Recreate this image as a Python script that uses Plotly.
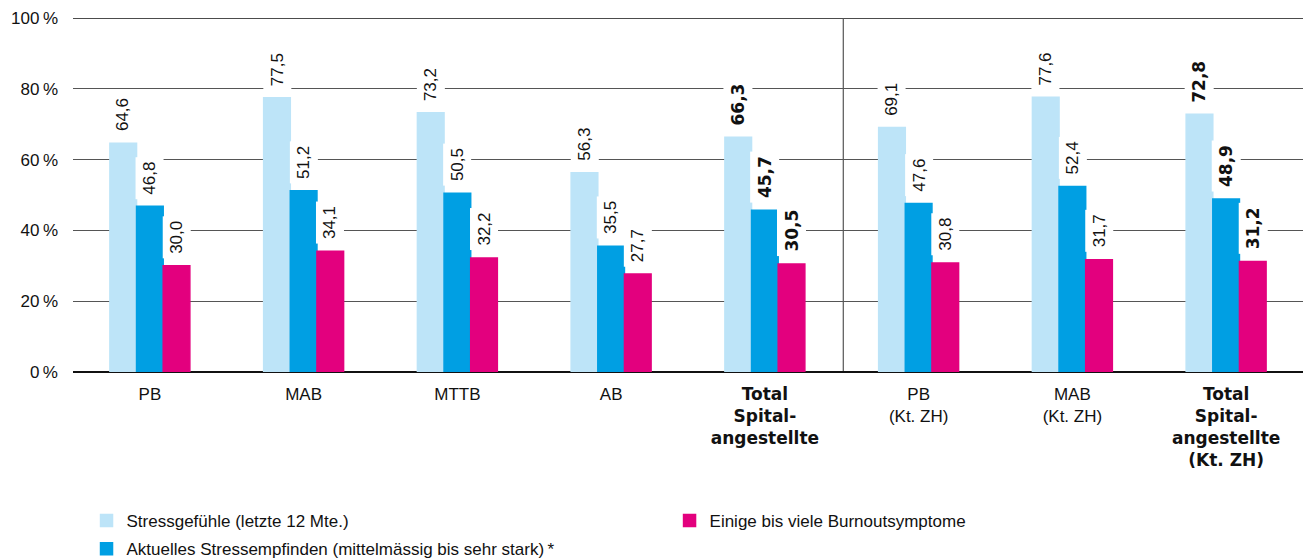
import plotly.graph_objects as go

categories = ["PB", "MAB", "MTTB", "AB", "Total Spitalangestellte", "PB (Kt. ZH)", "MAB (Kt. ZH)", "Total Spitalangestellte (Kt. ZH)"]
tick_labels = [
    "PB", "MAB", "MTTB", "AB",
    "<b>Total</b><br><b>Spital-</b><br><b>angestellte</b>",
    "PB<br>(Kt. ZH)", "MAB<br>(Kt. ZH)",
    "<b>Total</b><br><b>Spital-</b><br><b>angestellte</b><br><b>(Kt. ZH)</b>",
]
is_total = [False, False, False, False, True, False, False, True]
series_names = [
    "Stressgefühle (letzte 12 Mte.)",
    "Aktuelles Stressempfinden (mittelmässig bis sehr stark)\u2009*",
    "Einige bis viele Burnoutsymptome",
]
stress_12m = [64.6, 77.5, 73.2, 56.3, 66.3, 69.1, 77.6, 72.8]
stress_now = [46.8, 51.2, 50.5, 35.5, 45.7, 47.6, 52.4, 48.9]
burnout = [30.0, 34.1, 32.2, 27.7, 30.5, 30.8, 31.7, 31.2]
series_values = [stress_12m, stress_now, burnout]
y_tickvals = [0, 20, 40, 60, 80, 100]
y_ticktext = ["0\u2009%", "20\u2009%", "40\u2009%", "60\u2009%", "80\u2009%", "100\u2009%"]
colors = ["#BDE4F8", "#009FE3", "#E3007E"]

REG = "Liberation Sans, Arial, sans-serif"
BOLD = "DejaVu Sans, sans-serif"
FS = 17

def fmt(v):
    return f"{v:.1f}".replace(".", ",")

bold_span = "<span style='font-family:DejaVu Sans'>{}</span>"
ticktext = []
for t, tot in zip(tick_labels, is_total):
    if tot:
        parts = t.split("<br>")
        ticktext.append("<br>".join(bold_span.format(p) for p in parts))
    else:
        ticktext.append(t)

xs = list(range(len(categories)))
bargap = 0.48
bw = (1 - bargap) / 3
offsets = [-bw, 0, bw]

fig = go.Figure()
legend_ids = ["legend", "legend", "legend2"]
groups = ["g1", "g2", "g3"]
for name, vals, col, lg, grp in zip(series_names, series_values, colors, legend_ids, groups):
    fig.add_trace(go.Bar(
        x=xs, y=vals, name=name, marker=dict(color=col, line=dict(color=col, width=1.5)),
        legend=lg, legendgroup=grp, hoverinfo="skip",
    ))

annotations = []
for vals, off in zip(series_values, offsets):
    for i, v in enumerate(vals):
        tot = is_total[i]
        annotations.append(dict(
            x=i + off, y=v, xref="x", yref="y",
            text=("<b>" + fmt(v) + "</b>") if tot else fmt(v),
            textangle=-90, showarrow=False, yanchor="bottom", xanchor="center",
            yshift=7, bgcolor="white", borderpad=4,
            font=dict(family=BOLD if tot else REG, size=FS, color="#111"),
        ))

shapes = [
    dict(type="line", xref="x", yref="y", x0=4.51, x1=4.51, y0=0, y1=100,
         line=dict(color="#555", width=1.2), layer="below"),
    dict(type="line", xref="paper", yref="y", x0=0, x1=1, y0=100, y1=100,
         line=dict(color="#111", width=1.5), layer="below"),
]

fig.update_layout(
    width=1303, height=560,
    margin=dict(l=73, r=0, t=18, b=188, autoexpand=False),
    paper_bgcolor="white", plot_bgcolor="white",
    barmode="group", bargap=bargap, bargroupgap=0,
    font=dict(family=REG, size=FS, color="#111"),
    xaxis=dict(range=[-0.5, 7.5], tickvals=xs, ticktext=ticktext, showgrid=False,
               zeroline=False, showline=False, ticks="", ticklabelstandoff=10,
               automargin=False, tickfont=dict(size=FS, family=REG)),
    yaxis=dict(range=[0, 100], tickvals=y_tickvals, ticktext=y_ticktext,
               showgrid=True, gridcolor="#555", gridwidth=1, zeroline=True,
               zerolinecolor="#111", zerolinewidth=1.5, ticks="", ticklabelstandoff=14,
               automargin=False, tickfont=dict(size=FS, family=REG)),
    showlegend=True,
    legend=dict(x=0.011, y=-0.37, xanchor="left", yanchor="top", orientation="v",
                font=dict(size=FS, family=REG), bgcolor="rgba(0,0,0,0)",
                traceorder="grouped", tracegroupgap=3),
    legend2=dict(x=0.485, y=-0.37, xanchor="left", yanchor="top", orientation="v",
                 font=dict(size=FS, family=REG), bgcolor="rgba(0,0,0,0)"),
    annotations=annotations,
    shapes=shapes,
)

fig.write_html("out.html", config={"displayModeBar": False},
               post_script="document.body.style.margin='0px';")
